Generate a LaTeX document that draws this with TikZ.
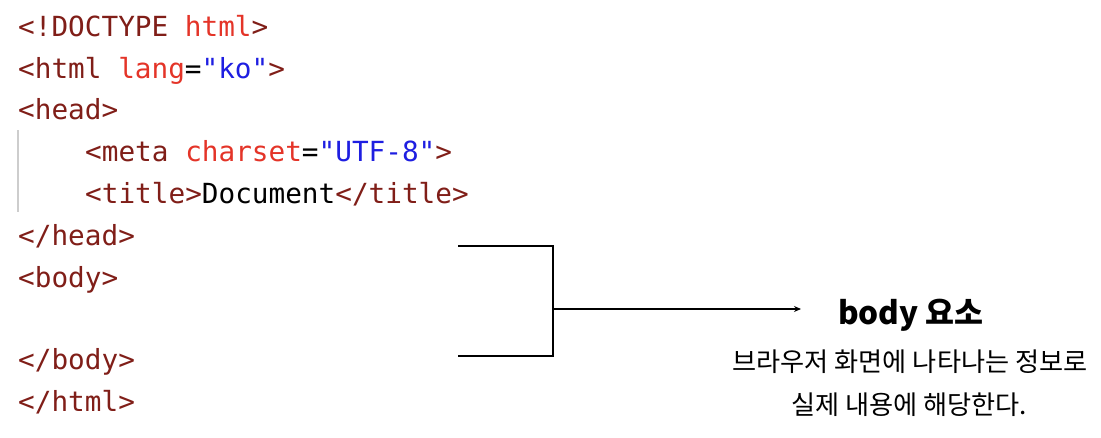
\documentclass[tikz,border=0pt]{standalone}
\usepackage{fontspec}
\setmonofont{DejaVu Sans Mono}
\newfontfamily\kr{Noto Sans CJK KR}
\usetikzlibrary{arrows.meta}
\definecolor{tagc}{RGB}{128,30,24}
\definecolor{attc}{RGB}{228,52,40}
\definecolor{valc}{RGB}{30,30,225}
\definecolor{guide}{RGB}{205,205,205}
\tikzset{
  code/.style={anchor=base west,inner sep=0pt,font=\ttfamily\fontsize{27.7}{30}\selectfont},
  krtitle/.style={anchor=base,inner sep=0pt,font=\kr\bfseries\fontsize{31.5}{34}\selectfont},
  krtext/.style={anchor=base,inner sep=0pt,font=\kr\fontsize{26.2}{29}\selectfont},
  link/.style={line width=1.3pt,black},
}
\newcommand{\tg}[1]{\textcolor{tagc}{#1}}
\newcommand{\at}[1]{\textcolor{attc}{#1}}
\newcommand{\vl}[1]{\textcolor{valc}{#1}}
\begin{document}
\begin{tikzpicture}[x=1pt,y=-1pt]
\useasboundingbox[fill=white] (0,0) rectangle (1101,437);
\node[code] (l1) at (18,36) {\tg{<!DOCTYPE} \at{html}\tg{>}};
\node[code] (l2) at (18,78) {\tg{<html} \at{lang}=\vl{"ko"}\tg{>}};
\node[code] (l3) at (18,119) {\tg{<head>}};
\node[code] (l4) at (85,161) {\tg{<meta} \at{charset}=\vl{"UTF-8"}\tg{>}};
\node[code] (l5) at (85,203) {\tg{<title>}Document\tg{</title>}};
\node[code] (l6) at (18,245) {\tg{</head>}};
\node[code] (l7) at (18,287) {\tg{<body>}};
\node[code] (l8) at (18,369) {\tg{</body>}};
\node[code] (l9) at (18,411) {\tg{</html>}};
\coordinate (g1) at (18,130);
\coordinate (g2) at (18,212);
\draw[guide,line width=1.5pt] (g1) -- (g2);
\coordinate (t1) at (458,246);
\coordinate (t2) at (553,246);
\coordinate (b2) at (553,356);
\coordinate (b1) at (458,356);
\coordinate (m) at (553,309);
\coordinate (e) at (801,309);
\draw[link] (t1) -- (t2) -- (b2) -- (b1);
\draw[link,-{Stealth[length=7pt,width=6pt]}] (m) -- (e);
\node[krtitle] (title) at (911,324) {body 요소};
\node[krtext] (d1) at (910,371) {브라우저 화면에 나타나는 정보로};
\node[krtext] (d2) at (909,414) {실제 내용에 해당한다.};
\end{tikzpicture}
\end{document}
